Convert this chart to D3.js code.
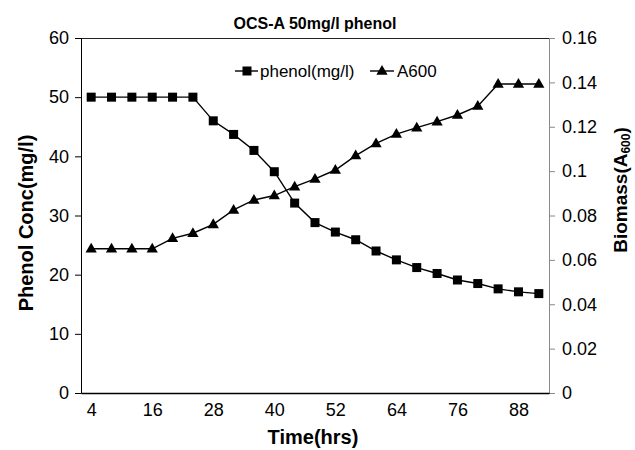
<!DOCTYPE html>
<html><head><meta charset="utf-8">
<script src="https://cdn.jsdelivr.net/npm/d3@7"></script>
<style>body{margin:0;background:#fff}svg{display:block}text{font-family:"Liberation Sans",Arial,sans-serif}</style>
</head><body>
<script>
const hours = [4,8,12,16,20,24,28,32,36,40,44,48,52,56,60,64,68,72,76,80,84,88,92];
const phenol = [50,50,50,50,50,50,46.0,43.7,41.0,37.4,32.1,28.8,27.2,25.9,24.0,22.5,21.2,20.2,19.1,18.5,17.6,17.1,16.8];
const a600 = [0.065,0.065,0.065,0.065,0.0697,0.072,0.076,0.0825,0.087,0.089,0.093,0.0965,0.1005,0.107,0.1125,0.1167,0.1196,0.1223,0.1253,0.1293,0.1393,0.1393,0.1393];
const xTicks = [4,16,28,40,52,64,76,88];
const leftTicks = [0,10,20,30,40,50,60];
const rightTicks = [0,0.02,0.04,0.06,0.08,0.1,0.12,0.14,0.16];
const title = "OCS-A 50mg/l phenol";
const seriesNames = ["phenol(mg/l)","A600"];

const W=635,H=450, L=81,R=549,T=38,B=393;
const svg=d3.select("body").append("svg").attr("width",W).attr("height",H);
const x=d3.scaleLinear().domain([2,94]).range([L,R]);
const yL=d3.scaleLinear().domain([0,60]).range([B,T]);
const yR=d3.scaleLinear().domain([0,0.16]).range([B,T]);

// top border
svg.append("line").attr("x1",L).attr("x2",R).attr("y1",T+0.5).attr("y2",T+0.5).attr("stroke","#222").attr("stroke-width",1);

// left axis
const gL=svg.append("g").attr("transform",`translate(${L},0)`)
  .call(d3.axisLeft(yL).tickValues(leftTicks).tickSize(6).tickPadding(6).tickFormat(d3.format("d")));
gL.select(".domain").attr("stroke","#000");
gL.selectAll(".tick line").attr("stroke","#000");
gL.selectAll("text").attr("font-size",18).attr("fill","#000").attr("font-family","Liberation Sans, Arial, sans-serif");

// right axis
const gR=svg.append("g").attr("transform",`translate(${R},0)`)
  .call(d3.axisRight(yR).tickValues(rightTicks).tickSize(6).tickPadding(7).tickFormat(d=>String(+d.toFixed(2))));
gR.select(".domain").attr("stroke","#888");
gR.selectAll(".tick line").attr("stroke","#888");
gR.selectAll("text").attr("font-size",18).attr("fill","#000").attr("font-family","Liberation Sans, Arial, sans-serif");

// bottom axis
const gB=svg.append("g").attr("transform",`translate(0,${B})`)
  .call(d3.axisBottom(x).tickValues(xTicks).tickSize(0).tickPadding(10).tickFormat(d3.format("d")));
gB.select(".domain").attr("stroke","#000").attr("stroke-width",1.5);
gB.selectAll("text").attr("font-size",18).attr("fill","#000").attr("font-family","Liberation Sans, Arial, sans-serif");

// lines
const lineP=d3.line().x((d,i)=>x(hours[i])).y(d=>yL(d));
const lineA=d3.line().x((d,i)=>x(hours[i])).y(d=>yR(d));
svg.append("path").attr("d",lineP(phenol)).attr("fill","none").attr("stroke","#000").attr("stroke-width",1.4);
svg.append("path").attr("d",lineA(a600)).attr("fill","none").attr("stroke","#000").attr("stroke-width",1.4);

svg.selectAll("rect.pm").data(phenol).enter().append("rect").attr("class","pm")
  .attr("x",(d,i)=>x(hours[i])-4.5).attr("y",d=>yL(d)-4.5).attr("width",9).attr("height",9).attr("fill","#000");
const tri=d3.symbol().type(d3.symbolTriangle).size(55);
svg.selectAll("path.am").data(a600).enter().append("path").attr("class","am")
  .attr("d",tri).attr("transform",(d,i)=>`translate(${x(hours[i])},${yR(d)+0.5})`).attr("fill","#000");

// legend
const ly=71;
svg.append("line").attr("x1",235).attr("x2",258).attr("y1",ly).attr("y2",ly).attr("stroke","#000").attr("stroke-width",1.4);
svg.append("rect").attr("x",242.5).attr("y",ly-4.5).attr("width",9).attr("height",9).attr("fill","#000");
svg.append("text").attr("x",260).attr("y",ly+6).attr("font-size",17).text(seriesNames[0]);
svg.append("line").attr("x1",370).attr("x2",394).attr("y1",ly).attr("y2",ly).attr("stroke","#000").attr("stroke-width",1.4);
svg.append("path").attr("d",tri).attr("transform",`translate(382,${ly+0.5})`).attr("fill","#000");
svg.append("text").attr("x",397).attr("y",ly+6).attr("font-size",17).text(seriesNames[1]);

// titles
svg.append("text").attr("x",315).attr("y",29).attr("text-anchor","middle").attr("font-size",16).attr("font-weight","bold").text(title);
svg.append("text").attr("x",313).attr("y",444).attr("text-anchor","middle").attr("font-size",20).attr("font-weight","bold").text("Time(hrs)");
svg.append("text").attr("transform","translate(33,223) rotate(-90)").attr("text-anchor","middle").attr("font-size",20).attr("font-weight","bold").text("Phenol Conc(mg/l)");
const rt=svg.append("text").attr("transform","translate(627,190) rotate(-90)").attr("text-anchor","middle").attr("font-size",19).attr("font-weight","bold");
rt.append("tspan").text("Biomass(A");
rt.append("tspan").attr("font-size",12).attr("dy",3).text("600");
rt.append("tspan").attr("dy",-3).text(")");
</script>
</body></html>
